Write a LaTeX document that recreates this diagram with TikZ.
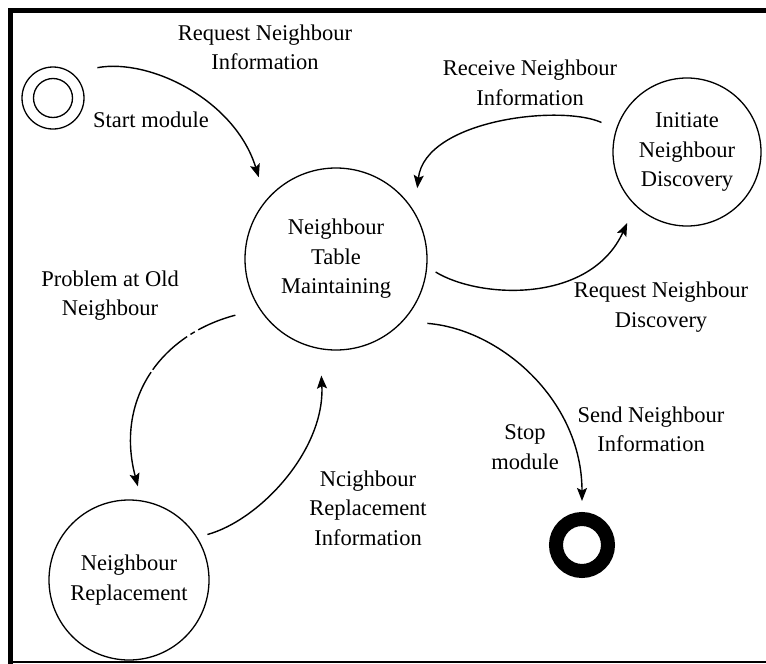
\documentclass[tikz,border=0pt]{standalone}
\usepackage{fontspec}
\setmainfont{Liberation Serif}
\usetikzlibrary{arrows.meta}
\begin{document}
\begin{tikzpicture}[x=1pt, y=-1pt,
  font=\fontsize{22.5}{29.5}\selectfont,
  state/.style={draw, circle, line width=1.3pt, inner sep=0pt, align=center},
  lbl/.style={align=center, inner sep=0pt},
  flow/.style={line width=1.4pt, -{Stealth[length=13pt, width=10pt, inset=2.5pt]}},
  brokenline/.style={dash pattern=on 40pt off 4pt on 5pt off 4pt on 48pt off 3pt on 400pt}]

  % canvas and frame
  \path[use as bounding box] (0,0) rectangle (766,664);
  \fill[white] (0,0) rectangle (766,664);
  \draw[line width=4.5pt] (766,10.5) -- (10.5,10.5) -- (10.5,664);
  \draw[line width=2.5pt] (8,662) -- (766,662);

  % states
  \node[state, minimum size=62pt] (start) at (53,98) {};
  \draw[line width=1.3pt] (start.center) circle[radius=19.5pt];
  \node[state, minimum size=182pt] (main) at (336,259) {Neighbour\\Table\\Maintaining};
  \node[state, minimum size=148pt] (disc) at (687,152) {Initiate\\Neighbour\\Discovery};
  \node[state, minimum size=160pt] (repl) at (129,580) {Neighbour\\Replacement};
  \node[circle, draw, line width=14pt, minimum size=52pt, inner sep=0pt, outer sep=0pt] (stop) at (582,545) {};

  % transitions
  \draw[flow, shorten <=26.2pt, shorten >=23.9pt]
    (start.54) .. controls (150,58) and (235,100) .. (main.140);
  \draw[flow, shorten <=15.9pt, shorten >=23.75pt]
    (disc.162) .. controls (560,104) and (425,120) .. (main.31);
  \draw[flow, shorten <=9.75pt, shorten >=19.1pt]
    (main.355) .. controls (480,299) and (590,304) .. (disc.226);
  \draw[flow, shorten <=24.45pt, shorten >=18pt]
    (main.317) .. controls (500,329) and (582,400) .. (stop.north);
  \draw[flow, brokenline, shorten <=24.6pt, shorten >=14.5pt]
    (main.213) .. controls (160,335) and (115,400) .. (repl.81);
  \draw[flow, shorten <=10.4pt, shorten >=26.3pt]
    (repl.32) .. controls (260,520) and (325,450) .. (main.260);

  % transition labels
  \node[lbl] (lreqinfo) at (265,47.5) {Request Neighbour\\Information};
  \node[lbl] (lstart) at (151,120) {Start module};
  \node[lbl] (lrecv) at (530,83) {Receive Neighbour\\Information};
  \node[lbl] (lproblem) at (110,295.5) {Problem at Old\\Neighbour};
  \node[lbl] (lreqdisc) at (661,307) {Request Neighbour\\Discovery};
  \node[lbl] (lsend) at (651,429.5) {Send Neighbour\\Information};
  \node[lbl] (lstop) at (525,447) {Stop\\module};
  \node[lbl] (lreplinfo) at (368,508) {Ncighbour\\Replacement\\Information};
\end{tikzpicture}
\end{document}
